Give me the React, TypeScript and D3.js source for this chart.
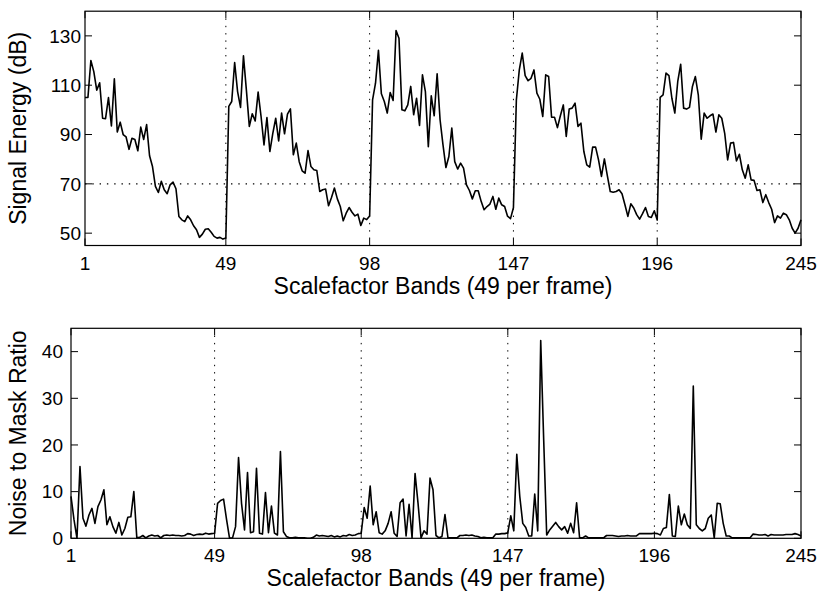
import React from "react";
import * as d3 from "d3";

// Signal energy (dB), 49 scalefactor bands per frame, 5 frames
const energyF1 = [105,105,120,115.5,108,111,96.6,96.4,105,93.5,112.6,91,95,90,89,84,88.5,88,83.4,93,88,94,81.4,77,69,66.5,71,67.6,66,69.6,70.7,68,56.8,55.4,54.7,57,55.4,53,51.4,48.3,49.6,51.6,51.8,50.4,48.7,48,48.3,47.6,48];
const energyF2 = [101.4,103.4,119.2,107.4,101,121.9,108,93.3,98.4,95.5,107.2,97.3,85.8,96.9,83.1,90.5,96.6,87.4,98.7,90.3,98.3,100.4,81.8,86.5,79,75.3,74.3,83.5,77,75.7,75.4,66.9,67.6,67.9,61.1,64.5,68.3,63.9,60.8,55,58.1,60.4,58.5,57,57.7,53.1,56.1,55.5,57];
const energyF3 = [104,110.8,124.1,106.5,103.4,98.7,107,103.8,132.2,129,100,99.6,102,109.5,98,104.7,93.7,114.2,107.4,85.1,105.7,97.6,114.6,96,85.8,76.6,81.1,92.6,79,76,78.4,76.4,69.6,67.3,63.9,67.2,67.2,62.9,59.5,60.8,61.8,64.9,59.7,64.2,61.5,60.8,56.9,55.9,60.3];
const energyF4 = [104,116.2,123,113.9,111.8,112.8,116.2,106.8,104.3,97.3,114.2,113.5,97,97,92.8,97.6,102,89.2,100.3,100.7,102.7,93.3,94.6,83.1,77.7,76.8,84.9,84.9,79.7,73,80.1,73.3,66.9,66.6,66.9,67.6,66,61.5,56.8,61.9,60.2,57.5,55.7,57.9,60.4,56.8,56.4,59.1,55.3];
const energyF5 = [105.1,106.1,114.9,113.9,104.7,98.7,111.5,118.5,100.7,100.3,101,109.5,113.5,106.1,88.1,98.7,96.6,97.6,98.3,91,98,96.6,90.5,79.7,86.5,86.8,79.3,82,75.7,72.3,77.7,71.6,71.4,67.3,67.6,62.4,65.6,62.4,59.7,54.3,57,56.1,58.1,57.5,55.4,52,50,52,55.4];

// Noise to mask ratio
const nmrF1 = [9,4,0,15.4,4.3,2.6,5,6.4,3.2,6.8,8.2,10.4,2.9,4.6,2.5,1.1,3.4,0.7,2.1,4.5,4.6,10,0.1,0.2,0.6,0.1,0.5,0.7,0.5,0.6,0.1,0.6,0.7,0.6,0.7,0.6,0.6,0.5,0.6,1.0,0.9,0.6,0.8,0.9,0.8,1.1,0.9,1.0,1.1];
const nmrF2 = [7.5,8.1,8.4,4,0,0.1,2.5,17.3,7.5,1.8,14.1,1.2,1.4,15,1.1,0.9,9.8,1.2,6.9,1.1,0.7,18.6,1.4,0.4,0.1,0.1,0.2,0.1,0.1,0.1,0,0,0.2,0.7,0.5,0.6,0.5,0.4,0.6,0.3,0.5,0.3,0.6,0.5,0.8,0.6,0.7,1.0,1.1];
const nmrF3 = [6.6,4.3,11.2,2.9,5.7,1.2,0.9,1.6,3.2,5.7,1.1,0.4,7.6,8.4,0.5,7.3,0.1,13.9,7.5,0.1,1.6,0.9,12.9,10.4,0.6,0.1,0.4,5.1,0.1,0.1,0.1,0.1,0.6,0.6,0.7,0.6,0.7,0.5,0.4,0.1,0.2,0.1,0.1,0.1,0.9,0.9,1.0,1.0,1.2];
const nmrF4 = [4.8,1.6,18,9,3.2,2.3,0.5,0.5,9.5,1.6,42.4,21,0.7,1.8,2.6,3.4,2.5,1.8,2.5,1.1,3.2,1.2,7.6,0.1,0.1,0.5,0.1,0.1,0.1,0.1,0.1,0.1,0.6,0.6,0.6,0.5,0.4,0.5,0.5,0.6,0.5,0.5,0.5,1.0,1.0,1.0,1.0,1.0,1.1];
const nmrF5 = [1.0,0.7,2.1,2.3,9.4,0.5,0.4,6.9,2.9,5.2,2.9,2.1,32.6,2.9,2.1,1.6,2.1,4.3,5,0.1,7.5,7.4,3.2,0.5,0.5,0.1,0.1,0.1,0.1,0.1,0.1,0.1,0.9,0.8,0.7,0.7,0.8,0.5,0.8,0.7,0.7,0.7,0.7,0.8,0.8,0.8,1.0,0.8,0.5];

const xTicks = [1, 49, 98, 147, 196, 245];
const frameEdges = [49, 98, 147, 196];
const energyTicks = [50, 70, 90, 110, 130];
const nmrTicks = [0, 10, 20, 30, 40];
const threshold = 70;
const xLabel = "Scalefactor Bands (49 per frame)";
const energyLabel = "Signal Energy (dB)";
const nmrLabel = "Noise to Mask Ratio";

const energy = [...energyF1, ...energyF2, ...energyF3, ...energyF4, ...energyF5];
const nmr = [...nmrF1, ...nmrF2, ...nmrF3, ...nmrF4, ...nmrF5];

const FONT = "'Liberation Sans', Arial, Helvetica, sans-serif";
const TICK = 7;

type PanelProps = {
  values: number[];
  yDomain: [number, number];
  yTicks: number[];
  left: number; right: number; top: number; bottom: number;
  yLabel: string;
  hLine?: number;
  labelGap: number;
};

function Panel({ values, yDomain, yTicks, left, right, top, bottom, yLabel, hLine, labelGap }: PanelProps) {
  const x = d3.scaleLinear().domain([1, 245]).range([left, right]);
  const y = d3.scaleLinear().domain(yDomain).range([bottom, top]);
  const line = d3.line<number>().x((_, i) => x(i + 1)).y((d) => y(d));
  const dots = "1.4 5.9";
  return (
    <g>
      {frameEdges.map((f) => (
        <line key={"v" + f} x1={x(f)} x2={x(f)} y1={top} y2={bottom} stroke="#000" strokeWidth={1} strokeDasharray={dots} />
      ))}
      {hLine !== undefined && (
        <line x1={left} x2={right} y1={y(hLine)} y2={y(hLine)} stroke="#000" strokeWidth={1.2} strokeDasharray={dots} />
      )}
      <path d={line(values) || ""} fill="none" stroke="#000" strokeWidth={1.6} strokeLinejoin="round" />
      <rect x={left} y={top} width={right - left} height={bottom - top} fill="none" stroke="#000" strokeWidth={1.2} />
      {xTicks.map((t) => (
        <g key={"xt" + t}>
          <line x1={x(t)} x2={x(t)} y1={bottom} y2={bottom - TICK} stroke="#000" />
          <line x1={x(t)} x2={x(t)} y1={top} y2={top + TICK} stroke="#000" />
          <text x={x(t)} y={bottom + 24} textAnchor="middle" fontSize={19} fontFamily={FONT}>{t}</text>
        </g>
      ))}
      {yTicks.map((t) => (
        <g key={"yt" + t}>
          <line x1={left} x2={left + TICK} y1={y(t)} y2={y(t)} stroke="#000" />
          <line x1={right} x2={right - TICK} y1={y(t)} y2={y(t)} stroke="#000" />
          <text x={left - labelGap} y={y(t)} dy="0.36em" textAnchor="end" fontSize={19} fontFamily={FONT}>{t}</text>
        </g>
      ))}
      <text x={(left + right) / 2} y={bottom + 48} textAnchor="middle" fontSize={23} fontFamily={FONT}>{xLabel}</text>
      <text transform={`translate(26,${(top + bottom) / 2}) rotate(-90)`} textAnchor="middle" fontSize={23} fontFamily={FONT}>{yLabel}</text>
    </g>
  );
}

export default function App() {
  return (
    <svg width={823} height={595} style={{ position: "absolute", left: 0, top: 0, background: "#fff" }}>
      <rect x={0} y={0} width={823} height={595} fill="#fff" />
      <Panel values={energy} yDomain={[45, 140]} yTicks={energyTicks} left={85} right={801} top={11.2} bottom={245.5} yLabel={energyLabel} hLine={threshold} labelGap={4} />
      <Panel values={nmr} yDomain={[0, 45]} yTicks={nmrTicks} left={71} right={801} top={328.3} bottom={538.3} yLabel={nmrLabel} labelGap={8} />
    </svg>
  );
}
